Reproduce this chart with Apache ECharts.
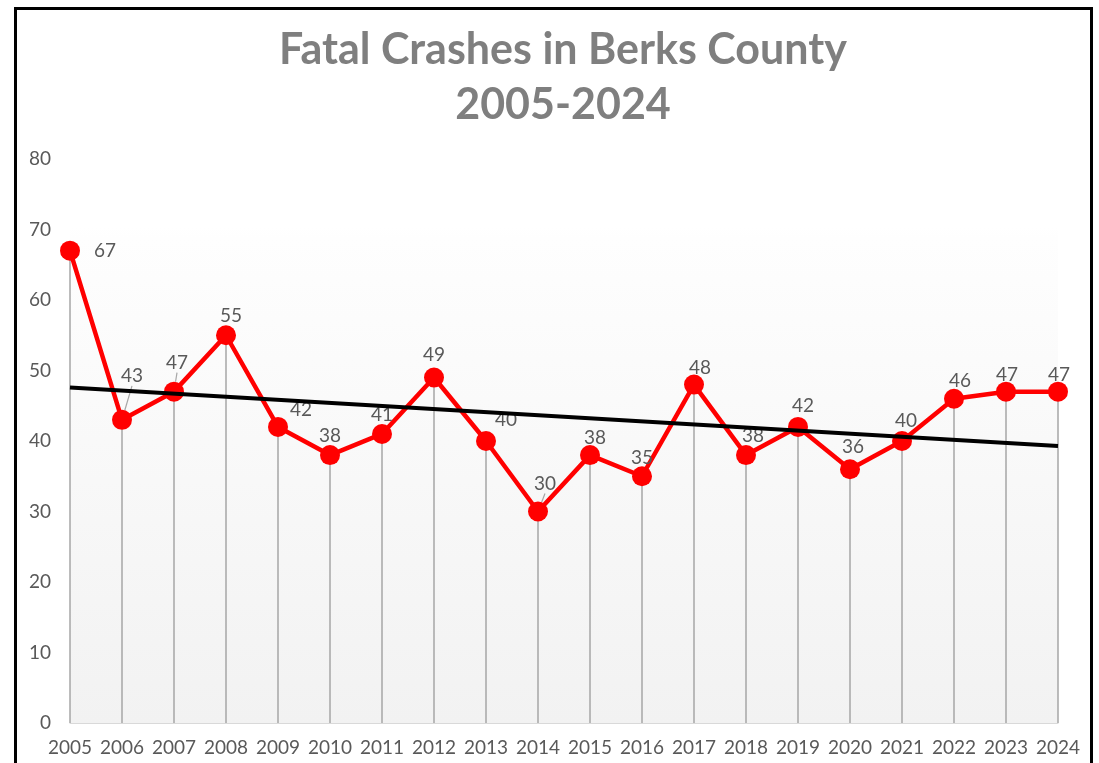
<!DOCTYPE html>
<html>
<head>
<meta charset="utf-8">
<script src="https://cdn.jsdelivr.net/npm/echarts@6/dist/echarts.min.js"></script>
<style>
html,body{margin:0;padding:0;background:#fff;overflow:hidden;}
#chart{position:absolute;left:0;top:0;width:1099px;height:763px;}
#frame{position:absolute;left:14px;top:7px;width:1079px;height:800px;border:3px solid #000;box-sizing:border-box;pointer-events:none;}
</style>
</head>
<body>
<div id="chart"></div>
<div id="frame"></div>
<script>
const years = ['2005','2006','2007','2008','2009','2010','2011','2012','2013','2014','2015','2016','2017','2018','2019','2020','2021','2022','2023','2024'];
const crashes = [67,43,47,55,42,38,41,49,40,30,38,35,48,38,42,36,40,46,47,47];
const trendYears = ['2005','2024'];
const trendValues = [47.6, 39.3];
const yTicks = [0,10,20,30,40,50,60,70,80];

// label placement tweaks (style only)
const labelShift = {
  1:[10,-24], 2:[3,-9], 3:[5,0], 4:[23,2], 8:[20,-2], 9:[7,-8], 10:[5,2],
  11:[0,1], 12:[6,3], 13:[7,0], 14:[5,-2], 15:[3,-3], 16:[4,-1], 17:[6,2],
  18:[1,3], 19:[1,3], 7:[0,-3]
};
const leaderIdx = [1,2,9];

const chart = echarts.init(document.getElementById('chart'));
const fontFam = 'Lato, "Open Sans", sans-serif';

const lineData = crashes.map((v,i)=>{
  const item = {value:v};
  if(i===0){
    item.label = {position:'right', distance:14};
  }
  if(leaderIdx.indexOf(i)>=0){
    item.labelLine = {show:true, lineStyle:{color:'#a6a6a6', width:1.2}};
  }
  return item;
});

chart.setOption({
  animation:false,
  backgroundColor:'#ffffff',
  title:{
    text:'Fatal Crashes in Berks County\n2005-2024',
    left:558, top:18, textAlign:'center',
    textStyle:{fontFamily:fontFam, fontWeight:'bold', fontSize:43, lineHeight:55, color:'#7f7f7f'}
  },
  grid:{left:70, right:41, top:159, bottom:40, containLabel:false},
  xAxis:{
    type:'category', data:years, boundaryGap:false,
    axisLine:{show:true, lineStyle:{color:'#d9d9d9', width:1}},
    axisTick:{show:false},
    axisLabel:{color:'#595959', fontFamily:fontFam, fontSize:19, margin:15, interval:0},
    splitLine:{show:false}
  },
  yAxis:{
    type:'value', min:yTicks[0], max:yTicks[yTicks.length-1], interval:yTicks[1]-yTicks[0],
    axisLine:{show:false}, axisTick:{show:false}, splitLine:{show:false},
    axisLabel:{color:'#595959', fontFamily:fontFam, fontSize:19, margin:19}
  },
  series:[
    {
      type:'bar', name:'drop', data:crashes, barWidth:1.5, silent:true, z:1,
      itemStyle:{color:'#a6a6a6'},
      markArea:{
        silent:true,
        itemStyle:{color:new echarts.graphic.LinearGradient(0,0,0,1,[
          {offset:0,color:'#ffffff'},{offset:0.12,color:'#ffffff'},{offset:0.14,color:'#fefefe'},{offset:1,color:'#f2f2f2'}
        ])},
        data:[[{xAxis:years[0], yAxis:yTicks[yTicks.length-1]},{xAxis:years[years.length-1], yAxis:0}]]
      }
    },
    {
      type:'line', name:'Fatal Crashes', data:lineData, z:3,
      symbol:'circle', symbolSize:20,
      lineStyle:{color:'#ff0000', width:4.5},
      itemStyle:{color:'#ff0000'},
      label:{show:true, position:'top', distance:0, color:'#595959', fontFamily:fontFam, fontSize:19},
      labelLayout:function(p){
        const s = labelShift[p.dataIndex];
        if(!s) return {};
        return {dx:s[0], dy:s[1]};
      },
      labelLine:{show:false}
    },
    {
      type:'line', name:'Trend', z:4, silent:true,
      data:trendYears.map((y,i)=>[y,trendValues[i]]),
      symbol:'none', lineStyle:{color:'#000000', width:4}
    }
  ]
});
</script>
</body>
</html>
